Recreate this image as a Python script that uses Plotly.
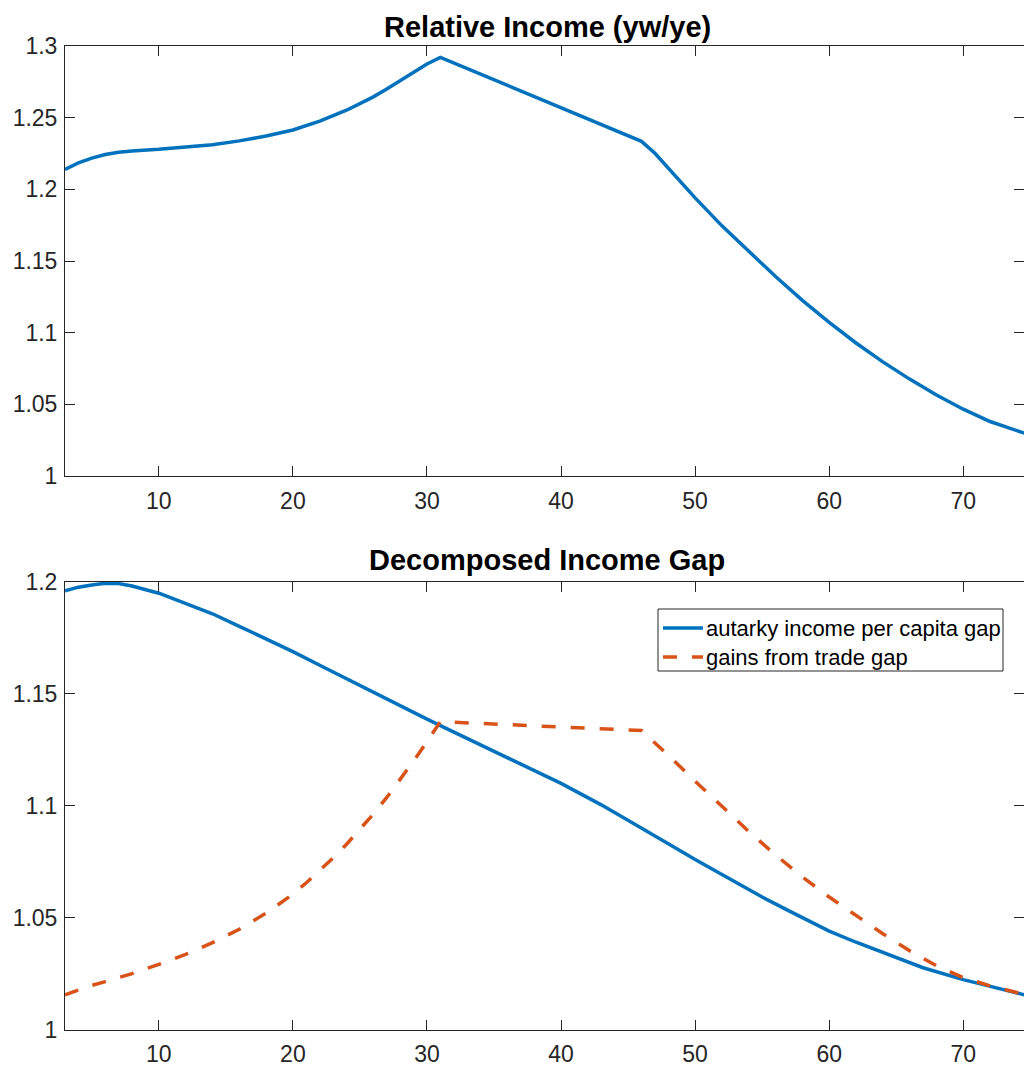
import plotly.graph_objects as go

# Relative income yw/ye over time
rel_x = [3, 4, 5, 6, 7, 8, 10, 12, 14, 16, 18, 20, 22, 24, 26, 27, 28, 29, 30, 31,
         40, 46, 47, 48, 50, 52, 54, 56, 58, 60, 62, 64, 66, 68, 70, 72, 75]
rel_y = [1.2138, 1.2185, 1.2218, 1.2243, 1.2259, 1.2268, 1.2279, 1.2292, 1.2311,
         1.2338, 1.2372, 1.2414, 1.2476, 1.2552, 1.2645, 1.2700, 1.2757, 1.2818,
         1.2874, 1.2921, 1.2573, 1.2335, 1.2252, 1.2150, 1.1940, 1.1745, 1.1565,
         1.1392, 1.1225, 1.1072, 1.0928, 1.0796, 1.0676, 1.0565, 1.0466, 1.0380,
         1.0285]

# Autarky income per capita gap
aut_x = [3, 4, 5, 6, 7, 8, 10, 12, 14, 16, 18, 20, 22, 24, 26, 28, 30, 31, 35,
         40, 43, 46, 48, 50, 52, 55, 57, 60, 62, 65, 67, 70, 72, 75]
aut_y = [1.1961, 1.1977, 1.1987, 1.1994, 1.1993, 1.1982, 1.1950, 1.1906, 1.1858,
         1.1802, 1.1746, 1.1689, 1.1628, 1.1567, 1.1506, 1.1446, 1.1387, 1.1358,
         1.1243, 1.1100, 1.1004, 1.0902, 1.0830, 1.0760, 1.0692, 1.0592, 1.0530,
         1.0440, 1.0390, 1.0320, 1.0276, 1.0223, 1.0192, 1.0148]

# Gains from trade gap
gft_x = [3, 4, 5, 6, 8, 10, 12, 14, 16, 18, 20, 21, 22, 23, 24, 25, 26, 27, 28,
         29, 30, 31, 46, 47, 48, 50, 52, 54, 56, 58, 60, 62, 64, 66, 68, 70, 72, 75]
gft_y = [1.0155, 1.0178, 1.0197, 1.0214, 1.0250, 1.0291, 1.0336, 1.0388, 1.0448,
         1.0520, 1.0605, 1.0656, 1.0710, 1.0767, 1.0828, 1.0893, 1.0963, 1.1037,
         1.1116, 1.1200, 1.1287, 1.1376, 1.1336, 1.1282, 1.1226, 1.1110, 1.0995,
         1.0885, 1.0780, 1.0682, 1.0592, 1.0508, 1.0428, 1.0352, 1.0285, 1.0232,
         1.0195, 1.0150]

series_names = ["autarky income per capita gap", "gains from trade gap"]
x_ticks = [10, 20, 30, 40, 50, 60, 70]
top_y_ticks = [1, 1.05, 1.1, 1.15, 1.2, 1.25, 1.3]
bot_y_ticks = [1, 1.05, 1.1, 1.15, 1.2]

BLUE = "#0072BD"
ORANGE = "#D95319"
AXIS = "#262626"
FONT = "Liberation Sans, Arial, Helvetica, sans-serif"
W, H = 1024, 1066
LW = 3.5
DASH = "14px,15px"

fig = go.Figure()
fig.add_trace(go.Scatter(x=rel_x, y=rel_y, mode="lines", line=dict(color=BLUE, width=LW),
                         showlegend=False, xaxis="x", yaxis="y"))
fig.add_trace(go.Scatter(x=aut_x, y=aut_y, mode="lines", name=series_names[0],
                         line=dict(color=BLUE, width=LW), showlegend=False,
                         xaxis="x2", yaxis="y2"))
fig.add_trace(go.Scatter(x=gft_x, y=gft_y, mode="lines", name=series_names[1],
                         line=dict(color=ORANGE, width=LW, dash=DASH), showlegend=False,
                         xaxis="x2", yaxis="y2"))

left = 65 / W
axis_common = dict(showline=True, linecolor=AXIS, linewidth=1, mirror="ticks",
                   ticks="inside", ticklen=10, tickcolor=AXIS, tickwidth=1,
                   showgrid=False, zeroline=False, automargin=False,
                   tickfont=dict(family=FONT, size=23, color=AXIS))
x_range = [3, 74.53]
xfmt = dict(ticklabelstandoff=4)
yfmt = dict(ticklabelstandoff=2)


def px_x(p):
    return p / W


def px_y(p):
    return 1 - p / H


# Boxed legend in the lower panel
leg_box = dict(x0=658, x1=1003, y0=609, y1=671)
leg_rows = [628, 657]
leg_styles = [dict(color=BLUE, width=LW), dict(color=ORANGE, width=LW, dash=DASH)]
shapes = [dict(type="rect", xref="paper", yref="paper",
               x0=px_x(leg_box["x0"]), x1=px_x(leg_box["x1"]),
               y0=px_y(leg_box["y1"]), y1=px_y(leg_box["y0"]),
               line=dict(color=AXIS, width=1), fillcolor="white", layer="above")]
annotations = []
for row, style, name in zip(leg_rows, leg_styles, series_names):
    shapes.append(dict(type="line", xref="paper", yref="paper",
                       x0=px_x(663), x1=px_x(703), y0=px_y(row), y1=px_y(row),
                       line=style, layer="above"))
    annotations.append(dict(text=name, x=px_x(704), y=px_y(row), xref="paper", yref="paper",
                            showarrow=False, xanchor="left", yanchor="middle",
                            font=dict(family=FONT, size=22, color="#000000")))

for label, yc in [("Relative Income (yw/ye)", 27), ("Decomposed Income Gap", 560)]:
    annotations.append(dict(text=f"<b>{label}</b>", x=547.4 / W, y=px_y(yc),
                            xref="paper", yref="paper", showarrow=False,
                            xanchor="center", yanchor="middle",
                            font=dict(family=FONT, size=29, color="#000000")))

fig.update_layout(
    width=W, height=H,
    margin=dict(l=0, r=0, t=0, b=0),
    paper_bgcolor="white", plot_bgcolor="white",
    showlegend=False,
    xaxis=dict(domain=[left, 1], range=x_range, tickvals=x_ticks, anchor="y",
               **axis_common, **xfmt),
    yaxis=dict(domain=[px_y(476), px_y(46)], range=[1, 1.3], tickvals=top_y_ticks,
               ticktext=[f"{v:g}" for v in top_y_ticks], anchor="x", **axis_common, **yfmt),
    xaxis2=dict(domain=[left, 1], range=x_range, tickvals=x_ticks, anchor="y2",
                **axis_common, **xfmt),
    yaxis2=dict(domain=[px_y(1029.5), px_y(582)], range=[1, 1.2], tickvals=bot_y_ticks,
                ticktext=[f"{v:g}" for v in bot_y_ticks], anchor="x2", **axis_common, **yfmt),
    shapes=shapes,
    annotations=annotations,
)

fig.write_html("out.html")
